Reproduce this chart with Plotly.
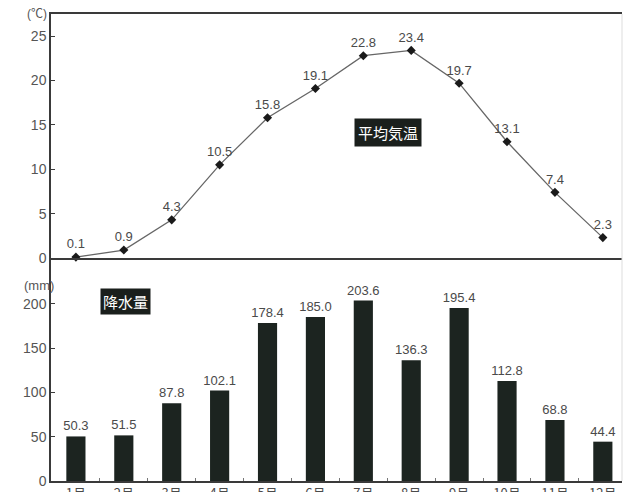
import plotly.graph_objects as go

months = ["1月", "2月", "3月", "4月", "5月", "6月", "7月", "8月", "9月", "10月", "11月", "12月"]
month_pos = list(range(1, 13))
temperature = [0.1, 0.9, 4.3, 10.5, 15.8, 19.1, 22.8, 23.4, 19.7, 13.1, 7.4, 2.3]
precipitation = [50.3, 51.5, 87.8, 102.1, 178.4, 185.0, 203.6, 136.3, 195.4, 112.8, 68.8, 44.4]
temp_ticks = [0, 5, 10, 15, 20, 25]
prec_ticks = [0, 50, 100, 150, 200]

FONT = "Arial, 'Liberation Sans', 'Noto Sans CJK JP', sans-serif"
JP = "'Noto Sans CJK JP', sans-serif"
AX = "#3a3a3a"
TXT = "#4a4a4a"

fig = go.Figure()

fig.add_trace(go.Scatter(
    x=month_pos, y=temperature, xaxis="x2", yaxis="y",
    mode="lines+markers+text",
    line=dict(color="#666666", width=1.3),
    marker=dict(symbol="diamond", size=7, color="#1a1a1a"),
    text=[f"{v:.1f}" for v in temperature],
    textposition="top center",
    textfont=dict(family=FONT, size=13, color=TXT),
    cliponaxis=False, showlegend=False, hoverinfo="skip",
))

fig.add_trace(go.Bar(
    x=month_pos, y=precipitation, xaxis="x", yaxis="y2",
    width=0.4, marker=dict(color="#1c2420", line=dict(width=0)),
    text=[f"{v:.1f}" for v in precipitation],
    textposition="outside", constraintext="none",
    textfont=dict(family=FONT, size=13, color=TXT),
    cliponaxis=False, showlegend=False, hoverinfo="skip",
))

xr = [0.48, 12.4]
split = 0.4775

fig.update_layout(
    width=625, height=492,
    margin=dict(l=51, r=3, t=14, b=11, autoexpand=False),
    paper_bgcolor="white", plot_bgcolor="white",
    font=dict(family=FONT, color=TXT),
    xaxis=dict(
        domain=[0, 1], anchor="y2", range=xr, automargin=False,
        tickvals=month_pos, ticktext=months, ticks="",
        tickfont=dict(family=JP, size=13, color=TXT),
        showgrid=False, zeroline=False,
        showline=True, linecolor=AX, linewidth=1.5,
        minor=dict(tickvals=[m + 0.5 for m in month_pos[:-1]], ticks="inside", ticklen=3, tickcolor="#777", showgrid=False),
    ),
    xaxis2=dict(
        domain=[0, 1], anchor="y", range=xr, automargin=False,
        showticklabels=False, ticks="", showgrid=False, zeroline=False,
        showline=True, linecolor=AX, linewidth=1.5, mirror=True,
    ),
    yaxis=dict(
        domain=[split, 1], anchor="x2", range=[0, 27.5], automargin=False,
        tickvals=temp_ticks, ticks="inside", ticklen=4, tickcolor=AX,
        tickfont=dict(family=FONT, size=14, color="#555"),
        showgrid=False, zeroline=False,
        showline=True, linecolor=AX, linewidth=1.5,
    ),
    yaxis2=dict(
        domain=[0, split], anchor="x", range=[0, 251.7], automargin=False,
        tickvals=prec_ticks, ticks="inside", ticklen=4, tickcolor=AX,
        tickfont=dict(family=FONT, size=14, color="#555"),
        showgrid=False, zeroline=False,
        showline=True, linecolor=AX, linewidth=1.5,
    ),
    shapes=[dict(type="line", xref="paper", yref="paper", x0=1, x1=1, y0=0, y1=1,
                 line=dict(color="#dddddd", width=1))],
    annotations=[
        dict(text="平均気温", xref="x2", yref="y", x=7.515, y=14.1, showarrow=False,
             font=dict(family=JP, size=15, color="white"), bgcolor="#1a1f1c", borderpad=3),
        dict(text="降水量", xref="x", yref="y2", x=2.035, y=203, showarrow=False,
             font=dict(family=JP, size=15, color="white"), bgcolor="#1a1f1c", borderpad=2),
        dict(text="(℃)", xref="paper", yref="paper", x=-0.046, y=1.0, yanchor="middle", showarrow=False,
             font=dict(family=FONT, size=12, color="#555")),
        dict(text="(mm)", xref="paper", yref="paper", x=-0.051, y=0.4176, showarrow=False,
             font=dict(family=FONT, size=13, color="#555")),
    ],
)

fig.write_html("out.html")
